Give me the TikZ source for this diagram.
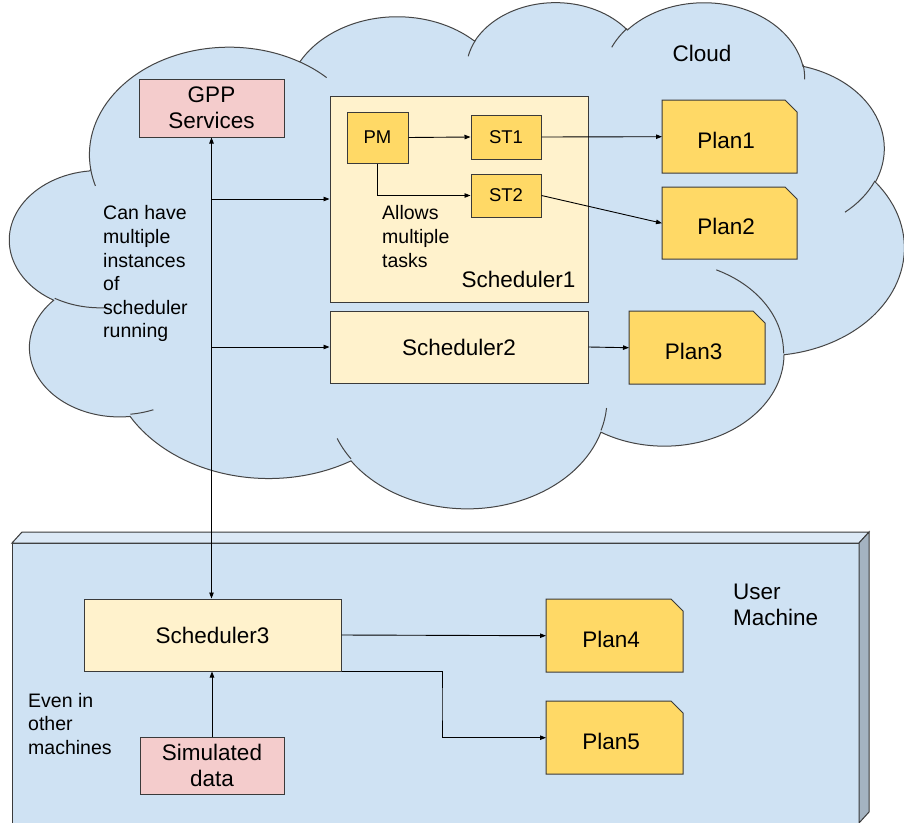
\documentclass[tikz,border=0pt]{standalone}
\usepackage{fontspec}
\setmainfont{Liberation Sans}
\usetikzlibrary{arrows.meta,calc}

\definecolor{cloudblue}{HTML}{CFE2F3}
\definecolor{toplight}{HTML}{DCE9F6}
\definecolor{sidegray}{HTML}{A4B3C1}
\definecolor{schedfill}{HTML}{FFF2CC}
\definecolor{planfill}{HTML}{FFD966}
\definecolor{srcfill}{HTML}{F4CCCC}
\definecolor{strokegray}{HTML}{3A3A3A}
\definecolor{cloudline}{HTML}{454545}

\newcommand\bigtext{\fontsize{22.5}{26.5}\selectfont}
\newcommand\smalltext{\fontsize{19.5}{23.6}\selectfont}
\newcommand\tinytext{\fontsize{18.5}{22}\selectfont}

% cloud outline: elliptical arcs given by radii, visual start angle and sweep
\newcommand\cldsx{0.206944}
\newcommand\cldsy{0.117130}
\newcommand\cldarc[4]{%
  \pgfextra{%
    \pgfmathparse{atan2((#1)*sin(#3),(#2)*cos(#3))}\xdef\cldTa{\pgfmathresult}%
    \pgfmathparse{atan2((#1)*sin((#3)+(#4)),(#2)*cos((#3)+(#4)))}\xdef\cldTb{\pgfmathresult}%
    \pgfmathparse{-(\cldTa)}\xdef\cldSa{\pgfmathresult}%
    \pgfmathparse{-(\cldTa)-Mod(\cldTb-(\cldTa),360)}\xdef\cldSb{\pgfmathresult}%
    \pgfmathparse{(#1)*\cldsx}\xdef\cldRx{\pgfmathresult}%
    \pgfmathparse{(#2)*\cldsy}\xdef\cldRy{\pgfmathresult}%
  }%
  arc[x radius=\cldRx pt, y radius=\cldRy pt, start angle=\cldSa, end angle=\cldSb]%
}

% plan document: box with the top right corner cut off
\newcommand\planbox[6]{%
  \filldraw[plan] (#2,#3) -- ({#4-12},#3) -- (#4,{#3+12}) -- (#4,#5) -- (#2,#5) -- cycle;
  \node[anchor=north west, inner sep=0, minimum width={#4-#2}, minimum height={#5-#3}] (#1) at (#2,#3) {};
  \node[lbl] at ([xshift=-3.5pt,yshift=-3.5pt]#1.center) {#6};
}

\begin{document}
\begin{tikzpicture}[x=1pt,y=-1pt,
  >={Triangle[length=6pt,width=4.5pt]},
  box/.style={rectangle, draw=strokegray, line width=1pt, inner sep=0},
  sched/.style={box, fill=schedfill},
  task/.style={box, fill=planfill, font=\tinytext},
  src/.style={box, fill=srcfill, font=\bigtext, align=center},
  plan/.style={fill=planfill, draw=strokegray, line width=1pt},
  lbl/.style={font=\bigtext, inner sep=0},
  note/.style={font=\smalltext, align=left, inner sep=0, anchor=north west},
  arr/.style={draw=black, line width=0.9pt, ->},
  cloudshape/.style={fill=cloudblue, draw=cloudline, line width=1pt},
  cloudedge/.style={draw=cloudline, line width=1pt}]

\useasboundingbox (0,0) rectangle (904,822);
\fill[white] (0,0) rectangle (904,822);

% the cloud
\begin{scope}[shift={(10,1)}, x=0.206944pt, y=-0.117130pt]
\filldraw[cloudshape] (390,1437)
  \cldarc{675.3}{919.0}{-190.48748}{123.78053}
  \cldarc{533.3}{726.7}{-144.10238}{89.94523}
  \cldarc{436.5}{594.5}{-145.80792}{99.72302}
  \cldarc{485.7}{659.5}{-130.98607}{117.24173}
  \cldarc{533.3}{727.3}{-78.70888}{109.02692}
  \cldarc{677.5}{922.0}{-46.26725}{130.26900}
  \cldarc{578.5}{786.7}{0.62502}{114.03333}
  \cldarc{675.2}{921.5}{22.45160}{115.17255}
  \cldarc{772.0}{1054.3}{66.24263}{75.71102}
  \cldarc{436.0}{591.8}{-274.94208}{146.73557}
  \cldarc{434.5}{594.5}{-246.82850}{152.51885}
  -- cycle;
\draw[cloudedge]
  (469.3,2617.7) \cldarc{434.5}{594.5}{86.74200}{26.42950}
  (692.8,3489.9) \cldarc{436.0}{591.8}{73.61047}{11.44747}
  (1647.8,3909.0) \cldarc{675.2}{921.5}{137.62415}{14.08110}
  (2882.7,3475.1) \cldarc{675.2}{921.5}{6.45327}{15.99835}
  (3412.9,2295.4) \cldarc{578.5}{786.7}{-70.29235}{70.91737}
  (4179.8,1535.4) \cldarc{533.3}{727.3}{30.31803}{27.75150}
  (3832.4,542.6) \cldarc{485.7}{659.5}{-13.74433}{14.85890}
  (2907.8,395.2) \cldarc{485.7}{659.5}{-149.18145}{18.19537}
  (2214.1,472.0) \cldarc{436.5}{594.5}{-163.49427}{17.69218}
  (1400.0,519.2) \cldarc{675.3}{919.0}{-66.70695}{12.31935}
  (412.7,1578.9) \cldarc{675.3}{919.0}{157.65435}{11.85817};
\end{scope}

% the user machine block
\filldraw[draw=strokegray, line width=1pt, fill=cloudblue] (12,543) rectangle (859,823);
\filldraw[draw=strokegray, line width=1pt, fill=toplight] (12,543) -- (22,532) -- (869,532) -- (859,543) -- cycle;
\filldraw[draw=strokegray, line width=1pt, fill=sidegray] (859,543) -- (869,532) -- (869,812) -- (859,823) -- cycle;

% cloud contents
\node[lbl] at (702,53) {Cloud};
\node[src, minimum width=145, minimum height=58] (gpp) at (211.5,108) {GPP\\Services};
\node[sched, minimum width=258, minimum height=206] (s1) at (459,199) {};
\node[lbl] at (518.5,279.5) {Scheduler1};
\node[task, minimum width=61, minimum height=51] (pm) at (377.5,137.5) {PM};
\node[task, minimum width=70, minimum height=44] (st1) at (506,137) {ST1};
\node[task, minimum width=70, minimum height=43] (st2) at (506,195.5) {ST2};
\node[note] at (382,205.5) {Allows\\multiple\\tasks};
\node[sched, font=\bigtext, minimum width=258, minimum height=72] (s2) at (459,347) {Scheduler2};
\node[note] at (103,205.5) {Can have\\multiple\\instances\\of\\scheduler\\running};
\planbox{p1}{662}{100}{797}{173}{Plan1}
\planbox{p2}{662}{187}{797}{259}{Plan2}
\planbox{p3}{629}{311}{765}{384}{Plan3}

% user machine contents
\node[font=\bigtext, align=left, inner sep=0, anchor=north west] at (733,583.5) {User\\Machine};
\node[note] at (28,693) {Even in\\other\\machines};
\node[sched, font=\bigtext, minimum width=257, minimum height=72] (s3) at (212.5,635) {Scheduler3};
\node[src, minimum width=144, minimum height=57] (sim) at (212,765.5) {Simulated\\data};
\planbox{p4}{546}{599}{683}{672}{Plan4}
\planbox{p5}{546}{701}{683}{774}{Plan5}

% connectors
\draw[arr, <->] (gpp.south) -- (gpp.south |- s3.north);
\draw[arr] (gpp.south |- s1.west) -- (s1.west);
\draw[arr] (gpp.south |- s2.west) -- (s2.west);
\draw[arr] (pm.east) -- (st1.west);
\draw[arr] (pm.south) |- (st2.west);
\draw[arr] (st1.east) -- (p1.west);
\draw[arr] (st2.east) -- (p2.west);
\draw[arr] (s2.east) -- (p3.west);
\draw[arr] (s3.east) -- (p4.west);
\coordinate (elbow) at (442,704);
\draw[arr] (s3.south east) -| (elbow) |- (p5.west);
\draw[arr] (sim.north) -- (sim.north |- s3.south);
\end{tikzpicture}
\end{document}
